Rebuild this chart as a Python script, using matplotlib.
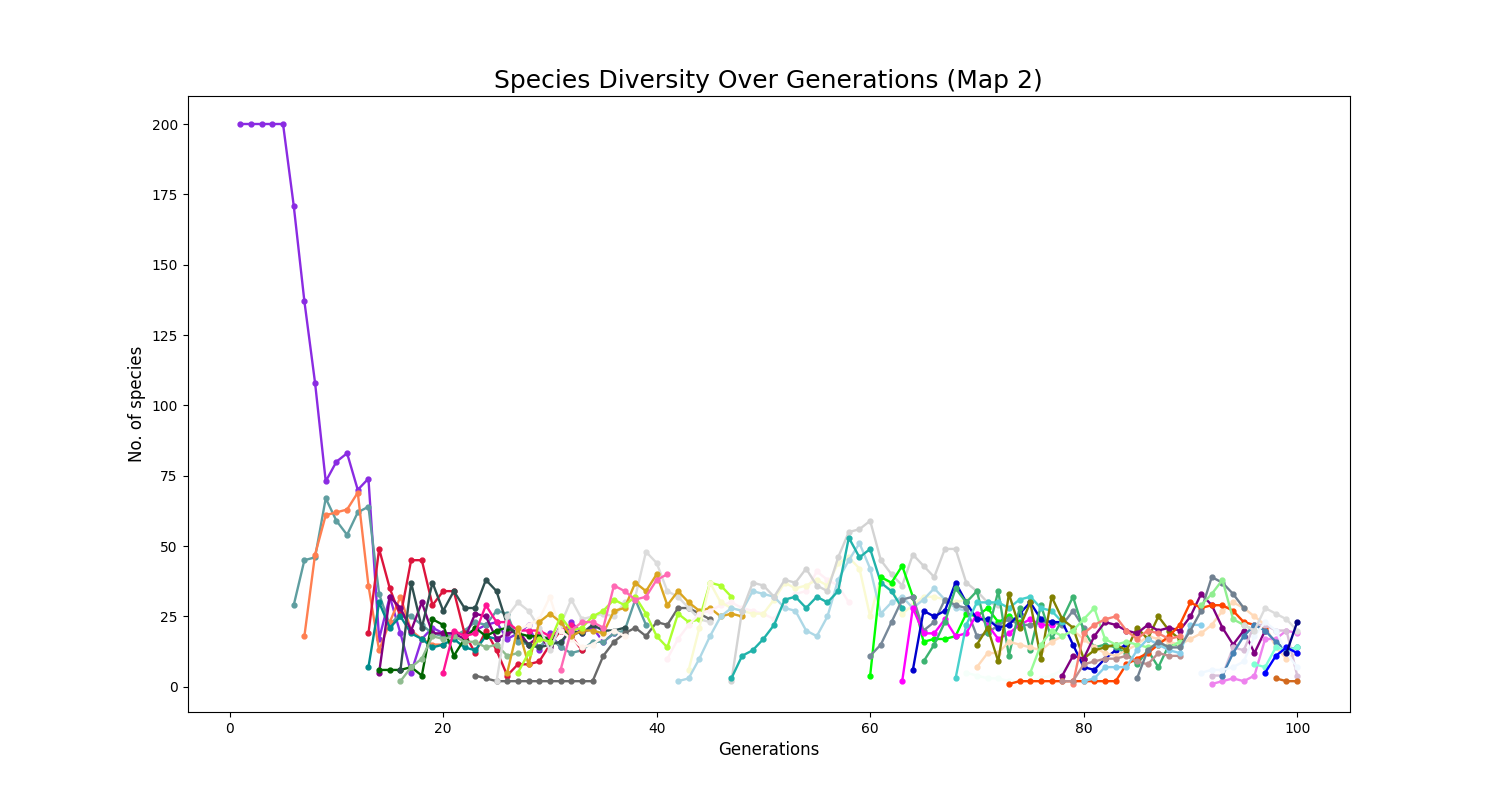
import matplotlib
matplotlib.use("Agg")
import matplotlib.pyplot as plt

title = "Species Diversity Over Generations (Map 2)"
xlabel = "Generations"
ylabel = "No. of species"

blueviolet = [200,200,200,200,200,171,137,108,73,80,83,70,74,17,32,19,5,17,21,19,19,19,20,22,23,17,19,22,13,19,14,23,19,21,16,19]
cadetblue = [29,45,46,67,59,54,62,64,33,22,26,25,22,19,18,18,20,23,22,27,26,16,15,14,18,14,12,13,16,16,19,20,31,22]
coral = [18,47,61,62,63,69,36,13,23,32,20,17,15,15]
crimson = [19,49,35,25,45,45,29,34,34,19,12,20,13,4,8,8,9,15,20,18,13]
teal = [7,30,21,25,19,17,14,15,17,14,13,18,17]
purple = [5,32,28,20,30,19,19,19,17,26,25,17,19,20,15,18,14,22,18,20]
darkgreen = [6,6,6,7,4,24,22,11,17,21,18,20,21,19,18,18,17,20,19]
darkslategray = [6,37,21,37,27,34,28,28,38,34,22,18,15,14,15,16,20,19,22,20,20,21]
darkseagreen = [2,7,10,18,17,18,16,16,14,15,11,12]
deeppink = [5,20,18,19,29,23,23,20,20,20,18,20,22]
dimgray = [4,3,2,2,2,2,2,2,2,2,2,2,11,16,19,21,18,23,22,28,28,26,24]
gainsboro = [2,25,30,27,21,13,22,31,24,25,26,25,30,32,48,44,34,32,28,24,23]
seashell = [20,22,24,32,20,17,14,15,18,20,18]
goldenrod = [5,21,8,23,26,23,18,20,20,19,27,28,37,34,40,29,34,30,27,28,25,26,25]
greenyellow = [5,12,17,16,25,20,21,25,27,31,29,32,26,18,14,26,23,24,37,36,32]
hotpink = [6,20,23,23,21,36,34,31,32,38,40]
lavenderblush = [10,17,22,26,27,29,30,28,27,26,24,30,33,34,41,38,36,30]
beige = [6,21,37,30,28,27,26,26,31,37,35,36,38,36,44,46,42,25,39,36,26,29,32,32,31,30,31]
lightblue = [2,3,10,18,25,28,27,34,33,32,28,27,20,18,25,38,45,51,42,26,30,32,28,31,35,31,28,27,25,24,22]
lightgray = [2,27,37,36,32,38,37,42,36,34,46,55,56,59,45,40,36,47,43,39,49,49,37,34,30,29]
lightseagreen = [3,11,13,17,22,31,32,28,32,30,34,53,46,49,37,34,28]
lime = [4,39,37,43,32,16,17,17,18,26,25,28,23,25,23]
lightslategray = [11,15,23,31,32,20,23,31,29,28,18,19,22,24,22,22,23,23,22,27,21]
magenta = [2,28,19,19,24,18,19,26,22,17,19,22,24,22,22]
mediumblue = [6,27,25,27,37,30,24,24,21,22,26,30,24,23,23,15,7,6,10,13,15]
mediumseagreen = [9,15,23,35,30,34,19,34,11,28,13,29,17,24,32,20,14,15,14,12,8,13,7,15,15]
mediumturquoise = [3,22,30,30,30,28,31,32,28,27,23]
mintcream = [5,4,3,3,2,2,2,3,4,6,8,12]
peachpuff = [7,12,12,16,15,14,13,16,18,20,17,14,12,11,13,15,18,17,16,15,17,19,22,27,30,28,25,22,14,10,12]
olive = [15,21,9,33,21,30,10,32,24,21,10,13,14,15,13,21,17,25,20,17]
palegreen = [5,15,20,18,20,24,28,17,15,16,15,14,15,14,16]
purple2 = [4,11,10,18,23,22,20,19,22,20,21,20,25,33,29,21,15,20,12,20]
orangered = [1,2,2,2,2,2,2,2,2,2,2,8,10,12,15,18,22,30,28,29,29,27,23,22,21]
salmon = [1,19,22,24,25,20,17,20,19,17,18]
rosybrown = [2,2,8,9,10,10,11,9,8,12,11,11]
skyblue = [2,3,7,7,7,13,17,15,13,12,22,22]
slategray = [3,13,16,14,14,20,27,39,37,33,28]
lightgreen = [29,33,38,24,22,20]
violet = [1,2,3,2,4,17,17,20,19]
thistle = [4,4,14,13,22,22,20,20,4]
steelblue = [4,12,18,22,20,16,13,14]
aliceblue = [5,6,6,7,9,18,23,20,12,7]
gainsboro2 = [22,20,28,26,24,20]
aquamarine = [8,7,14,13,14]
blue = [5,11,14,12]
navy = [12,23]
chocolate = [3,2,2]

series_values = [blueviolet,cadetblue,coral,crimson,teal,purple,darkgreen,darkslategray,darkseagreen,deeppink,dimgray,gainsboro,seashell,goldenrod,greenyellow,hotpink,lavenderblush,beige,lightblue,lightgray,lightseagreen,lime,lightslategray,magenta,mediumblue,mediumseagreen,mediumturquoise,mintcream,peachpuff,olive,palegreen,purple2,orangered,salmon,rosybrown,skyblue,slategray,lightgreen,violet,thistle,steelblue,aliceblue,gainsboro2,aquamarine,blue,navy,chocolate]
series_starts = [1,6,7,13,13,14,14,16,16,20,23,25,27,26,27,31,41,43,42,47,47,60,60,63,64,65,68,69,70,70,75,78,73,79,78,80,85,91,92,92,93,91,95,96,97,99,98]
series_colors = ["blueviolet","cadetblue","coral","crimson","darkcyan","purple","darkgreen","darkslategray","darkseagreen","deeppink","dimgray","gainsboro","seashell","goldenrod","greenyellow","hotpink","lavenderblush","lightgoldenrodyellow","lightblue","lightgray","lightseagreen","lime","lightslategray","magenta","mediumblue","mediumseagreen","mediumturquoise","mintcream","peachpuff","olive","palegreen","purple","orangered","salmon","rosybrown","skyblue","slategray","lightgreen","violet","thistle","steelblue","aliceblue","gainsboro","aquamarine","blue","navy","chocolate"]

fig, ax = plt.subplots(figsize=(15, 8), dpi=100)
for start, vals, col in zip(series_starts, series_values, series_colors):
    gens = range(start, start + len(vals))
    ax.plot(gens, vals, marker="o", markersize=3.5, linewidth=1.7, color=col)
ax.set_title(title, fontsize=18)
ax.set_xlabel(xlabel, fontsize=12)
ax.set_ylabel(ylabel, fontsize=12)
fig.savefig("out.png", dpi=100)
